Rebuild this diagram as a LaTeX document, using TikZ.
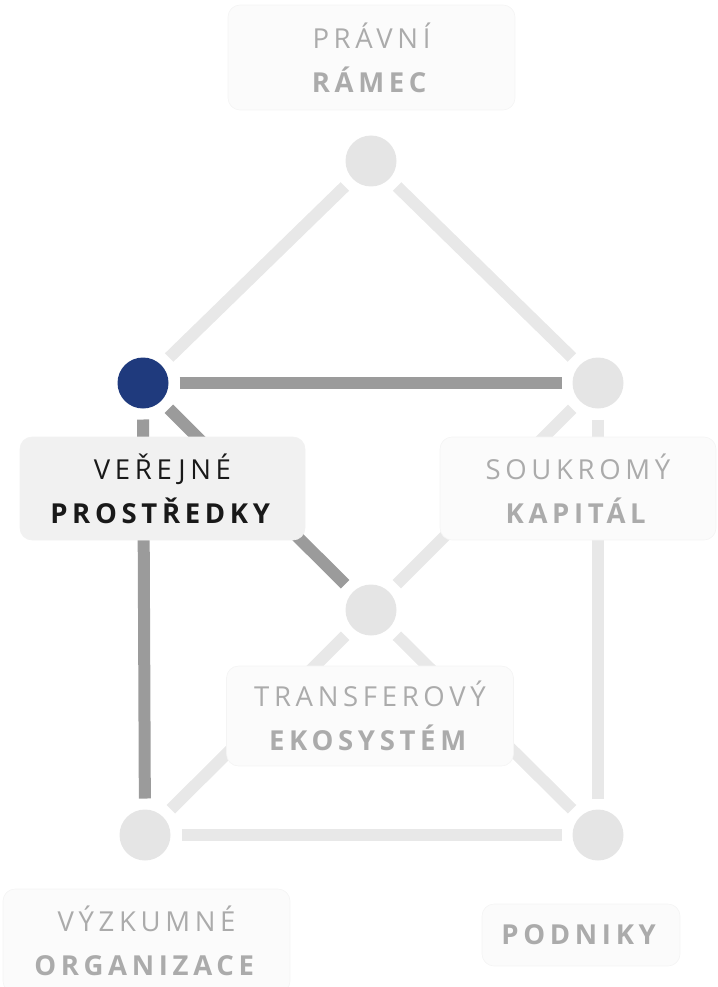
\documentclass[tikz,border=0pt]{standalone}
\usepackage{fontspec}
\setmainfont[LetterSpace=17]{Open Sans}
\usetikzlibrary{math}

\definecolor{hubgray}{HTML}{E5E5E5}
\definecolor{linkgray}{HTML}{E8E8E8}
\definecolor{stronggray}{HTML}{9B9B9B}
\definecolor{publicblue}{HTML}{1F3A7D}
\definecolor{boxgray}{HTML}{F1F1F1}
\definecolor{boxfaint}{HTML}{FBFBFB}
\definecolor{boxedge}{HTML}{F4F4F4}
\definecolor{textfaint}{HTML}{ABABAB}

\tikzset{
    hub/.style={circle, fill=hubgray, minimum size=51pt, inner sep=0pt, outer sep=11pt},
    link/.style={linkgray, line width=12pt},
    strong/.style={stronggray, line width=12pt},
    tag/.style={rounded corners=12pt, fill=boxfaint, draw=boxedge, line width=0.6pt,
        align=center, text=textfaint, inner sep=0pt,
        font=\fontsize{27.5}{44}\selectfont},
    activetag/.style={tag, fill=boxgray, draw=boxgray, text=black!90},
}

\begin{document}
\begin{tikzpicture}[x=1pt,y=-1pt]

% Position settings
\tikzmath{
    \LeftX = 143;
    \MidX = 371;
    \RightX = 598;
    \TopY = 161;
    \UpperY = 383;
    \MidY = 610;
    \LowY = 835;
}

\useasboundingbox (0,0) rectangle (717,987);

% Hubs
\node [hub] (Law) at (\MidX,\TopY) {};
\node [hub, fill=publicblue] (Public) at (\LeftX,\UpperY) {};
\node [hub] (Private) at (\RightX,\UpperY) {};
\node [hub] (Transfer) at (\MidX,\MidY) {};
\node [hub] (Research) at (\LeftX+2,\LowY) {};
\node [hub] (Firms) at (\RightX,\LowY) {};

% Draws faint links
\draw [link] (Law) -- (Public);
\draw [link] (Law) -- (Private);
\draw [link] (Private) -- (Transfer);
\draw [link] (Private) -- (Firms);
\draw [link] (Transfer) -- (Research);
\draw [link] (Transfer) -- (Firms);
\draw [link] (Research) -- (Firms);

% Draws links of the public funds
\draw [strong] (Public) -- (Private);
\draw [strong] (Public) -- (Transfer);
\draw [strong] (Public) -- (Research);

% Labels
\node [tag, minimum width=287pt, minimum height=105pt] (LawTag) at (371.5,57.5)
    {PRÁVNÍ\\\textbf{RÁMEC}};
\node [activetag, minimum width=285pt, minimum height=103pt] (PublicTag) at (162.5,488.5)
    {VEŘEJNÉ\\\textbf{PROSTŘEDKY}};
\node [tag, minimum width=276pt, minimum height=103pt] (PrivateTag) at (578,488.5)
    {SOUKROMÝ\\\textbf{KAPITÁL}};
\node [tag, minimum width=287pt, minimum height=100pt] (TransferTag) at (370,716)
    {TRANSFEROVÝ\\\textbf{EKOSYSTÉM}};
\node [tag, minimum width=287pt, minimum height=104pt] (ResearchTag) at (146.5,941)
    {VÝZKUMNÉ\\\textbf{ORGANIZACE}};
\node [tag, minimum width=198pt, minimum height=62pt] (FirmsTag) at (581,935)
    {\textbf{PODNIKY}};

\end{tikzpicture}
\end{document}
